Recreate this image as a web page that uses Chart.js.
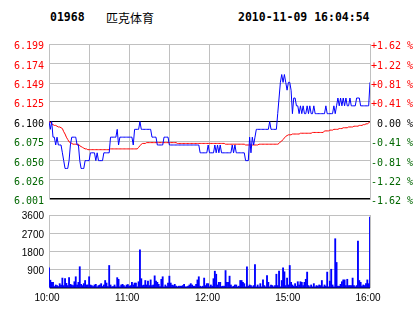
<!DOCTYPE html>
<html>
<head>
<meta charset="utf-8">
<script src="https://cdn.jsdelivr.net/npm/chart.js@4/dist/chart.umd.min.js"></script>
<style>
  body { margin: 0; background: #fff; width: 414px; height: 314px; position: relative; overflow: hidden; }
  .head { position: absolute; top: 10px; font: bold 11.5px "DejaVu Sans Mono", monospace; color: #000; line-height: 14px; white-space: pre; }
  .name { font: 12px "Noto Sans CJK SC", sans-serif; top: 9px; }
  canvas { position: absolute; left: 0; }
</style>
</head>
<body>
<div class="head" id="code" style="left:50px"></div>
<div class="head name" id="name" style="left:106px"></div>
<div class="head" id="stamp" style="left:238px"></div>
<canvas id="price" width="414" height="180" style="top:30px"></canvas>
<canvas id="vol" width="414" height="110" style="top:204px"></canvas>
<script>
const stockCode = '01968';
const stockName = '匹克体育';
const stamp = '2010-11-09 16:04:54';
const prevClose = 6.10;

const timeLabels = ['10:00', '11:00', '12:00', '15:00', '16:00'];
const priceTicks = [6.001, 6.026, 6.050, 6.075, 6.100, 6.125, 6.149, 6.174, 6.199];
const priceLabels = ['6.001', '6.026', '6.050', '6.075', '6.100', '6.125', '6.149', '6.174', '6.199'];
const pctLabels = ['-1.62 %', '-1.22 %', '-0.81 %', '-0.41 %', ' 0.00 %', '+0.41 %', '+0.81 %', '+1.22 %', '+1.62 %'];
const volTicks = [0, 900, 1800, 2700, 3600];

// one value per minute, 10:00 -> 16:00 (lunch break skipped)
const price = [
  6.10, 6.09, 6.10, 6.08, 6.08, 6.07, 6.08, 6.07, 6.07, 6.07,
  6.06, 6.05, 6.04, 6.04, 6.04, 6.05, 6.07, 6.08, 6.08, 6.08,
  6.08, 6.07, 6.07, 6.05, 6.04, 6.04, 6.04, 6.05, 6.05, 6.05,
  6.05, 6.06, 6.06, 6.06, 6.06, 6.05, 6.06, 6.05, 6.05, 6.05,
  6.05, 6.06, 6.06, 6.06, 6.06, 6.06, 6.08, 6.08, 6.08, 6.08,
  6.08, 6.09, 6.07, 6.08, 6.08, 6.08, 6.08, 6.08, 6.08, 6.08,
  6.08, 6.08, 6.08, 6.07, 6.09, 6.09, 6.09, 6.09, 6.10, 6.09,
  6.09, 6.09, 6.09, 6.09, 6.09, 6.09, 6.09, 6.08, 6.08, 6.08,
  6.08, 6.07, 6.07, 6.07, 6.07, 6.07, 6.08, 6.08, 6.08, 6.08,
  6.07, 6.07, 6.07, 6.07, 6.07, 6.07, 6.07, 6.07, 6.07, 6.07,
  6.07, 6.07, 6.07, 6.07, 6.07, 6.07, 6.07, 6.07, 6.07, 6.07,
  6.07, 6.07, 6.07, 6.06, 6.06, 6.06, 6.06, 6.06, 6.06, 6.07,
  6.06, 6.06, 6.06, 6.06, 6.07, 6.06, 6.07, 6.06, 6.07, 6.06,
  6.06, 6.06, 6.06, 6.06, 6.06, 6.06, 6.06, 6.07, 6.06, 6.07,
  6.06, 6.06, 6.06, 6.06, 6.06, 6.06, 6.06, 6.05, 6.05, 6.05,
  6.08, 6.06, 6.08, 6.07, 6.08, 6.09, 6.09, 6.09, 6.09, 6.09,
  6.09, 6.09, 6.09, 6.09, 6.09, 6.10, 6.09, 6.09, 6.09, 6.09,
  6.09, 6.11, 6.13, 6.15, 6.16, 6.15, 6.16, 6.15, 6.14, 6.15,
  6.15, 6.14, 6.11, 6.13, 6.13, 6.12, 6.12, 6.11, 6.12, 6.11,
  6.12, 6.11, 6.11, 6.12, 6.11, 6.12, 6.11, 6.11, 6.12, 6.11,
  6.11, 6.11, 6.11, 6.11, 6.11, 6.11, 6.11, 6.12, 6.11, 6.11,
  6.11, 6.11, 6.11, 6.12, 6.11, 6.12, 6.13, 6.12, 6.13, 6.12,
  6.13, 6.12, 6.13, 6.12, 6.12, 6.13, 6.12, 6.12, 6.12, 6.12,
  6.13, 6.13, 6.13, 6.12, 6.12, 6.12, 6.12, 6.12, 6.12, 6.12,
  6.15
];

const avgPrice = [
  6.100, 6.099, 6.097, 6.096, 6.095, 6.095, 6.094, 6.093, 6.093, 6.092,
  6.091, 6.087, 6.084, 6.080, 6.077, 6.074, 6.073, 6.072, 6.071, 6.071,
  6.071, 6.071, 6.071, 6.069, 6.068, 6.067, 6.066, 6.065, 6.065, 6.064,
  6.064, 6.064, 6.064, 6.064, 6.064, 6.064, 6.064, 6.064, 6.064, 6.064,
  6.064, 6.064, 6.064, 6.064, 6.064, 6.064, 6.065, 6.065, 6.065, 6.065,
  6.065, 6.065, 6.065, 6.065, 6.065, 6.065, 6.065, 6.065, 6.065, 6.065,
  6.065, 6.065, 6.065, 6.065, 6.065, 6.065, 6.065, 6.067, 6.069, 6.071,
  6.072, 6.072, 6.072, 6.073, 6.073, 6.073, 6.073, 6.073, 6.073, 6.073,
  6.073, 6.073, 6.073, 6.073, 6.073, 6.073, 6.073, 6.073, 6.073, 6.073,
  6.073, 6.073, 6.073, 6.073, 6.073, 6.073, 6.072, 6.072, 6.072, 6.072,
  6.072, 6.072, 6.072, 6.072, 6.072, 6.072, 6.072, 6.072, 6.072, 6.072,
  6.072, 6.072, 6.072, 6.072, 6.072, 6.072, 6.072, 6.072, 6.072, 6.072,
  6.072, 6.072, 6.072, 6.072, 6.072, 6.072, 6.072, 6.072, 6.072, 6.072,
  6.072, 6.072, 6.071, 6.071, 6.071, 6.071, 6.071, 6.071, 6.071, 6.071,
  6.071, 6.071, 6.071, 6.071, 6.071, 6.071, 6.071, 6.070, 6.070, 6.070,
  6.070, 6.070, 6.070, 6.070, 6.070, 6.070, 6.070, 6.071, 6.071, 6.071,
  6.071, 6.071, 6.071, 6.071, 6.071, 6.071, 6.071, 6.071, 6.071, 6.071,
  6.071, 6.071, 6.072, 6.074, 6.075, 6.077, 6.079, 6.081, 6.082, 6.083,
  6.083, 6.083, 6.084, 6.084, 6.084, 6.084, 6.084, 6.084, 6.085, 6.085,
  6.085, 6.085, 6.085, 6.085, 6.085, 6.085, 6.085, 6.086, 6.086, 6.086,
  6.086, 6.086, 6.086, 6.086, 6.086, 6.086, 6.088, 6.088, 6.088, 6.088,
  6.089, 6.089, 6.089, 6.090, 6.090, 6.090, 6.090, 6.091, 6.091, 6.091,
  6.092, 6.092, 6.092, 6.092, 6.093, 6.093, 6.093, 6.093, 6.094, 6.094,
  6.094, 6.094, 6.095, 6.095, 6.095, 6.096, 6.096, 6.097, 6.097, 6.098,
  6.100
];

const volume = [
  1000, 385, 280, 280, 75, 150, 120, 75, 215, 150,
  490, 120, 460, 230, 120, 510, 180, 150, 120, 310,
  555, 150, 280, 1050, 180, 120, 215, 370, 150, 150,
  555, 150, 120, 75, 150, 180, 60, 120, 150, 215,
  75, 150, 370, 245, 75, 1110, 150, 60, 75, 150,
  60, 510, 430, 60, 150, 180, 120, 60, 150, 170,
  90, 120, 280, 150, 245, 245, 60, 310, 1880, 460,
  120, 150, 370, 150, 340, 120, 400, 120, 150, 600,
  340, 280, 180, 75, 430, 555, 60, 150, 75, 245,
  585, 245, 150, 120, 180, 90, 60, 90, 90, 90,
  120, 180, 60, 60, 90, 150, 215, 150, 90, 90,
  180, 400, 555, 90, 60, 90, 490, 120, 215, 215,
  60, 150, 90, 460, 830, 680, 150, 280, 280, 75,
  90, 90, 860, 280, 280, 585, 150, 60, 90, 150,
  150, 60, 90, 370, 370, 280, 215, 60, 1050, 90,
  150, 120, 60, 120, 1150, 60, 150, 60, 215, 60,
  400, 120, 60, 615, 280, 60, 150, 120, 60, 120,
  680, 120, 830, 60, 370, 1000, 800, 120, 490, 150,
  1110, 280, 150, 90, 215, 90, 310, 150, 310, 280,
  120, 280, 430, 785, 120, 60, 150, 60, 215, 60,
  120, 90, 150, 120, 370, 60, 150, 90, 785, 60,
  340, 925, 150, 60, 2430, 1260, 90, 90, 180, 310,
  400, 400, 120, 430, 120, 120, 120, 490, 120, 60,
  120, 2310, 370, 280, 90, 150, 120, 215, 400, 215,
  3500
];

document.getElementById('code').textContent = stockCode;
document.getElementById('name').textContent = stockName;
document.getElementById('stamp').textContent = stamp;

const gray = '#c0c0c0';
const monoFont = { family: 'DejaVu Sans Mono', size: 10 };
const sansFont = { family: 'Liberation Sans', size: 10 };

function tickColor(v) {
  if (v > prevClose + 0.0001) return '#ff0000';
  if (v < prevClose - 0.0001) return '#006600';
  return '#000000';
}

function setPriceTicks(scale) {
  scale.ticks = priceTicks.map(v => ({ value: v }));
}

new Chart(document.getElementById('price'), {
  type: 'line',
  data: {
    datasets: [
      {
        data: price.map((p, i) => ({ x: i, y: p })),
        borderColor: '#0000ff',
        borderWidth: 1,
        pointRadius: 0,
        tension: 0,
      },
      {
        data: avgPrice.map((p, i) => ({ x: i, y: p })),
        borderColor: '#ff0000',
        borderWidth: 1,
        pointRadius: 0,
        tension: 0,
      },
    ],
  },
  options: {
    responsive: false,
    animation: false,
    events: [],
    layout: { padding: { top: 14, bottom: 6, left: 0, right: 0 } },
    plugins: { legend: { display: false }, tooltip: { enabled: false } },
    scales: {
      x: {
        type: 'linear',
        min: 0,
        max: 240,
        ticks: { stepSize: 30, display: false },
        grid: { color: gray, drawTicks: false },
        border: { display: false },
      },
      y: {
        position: 'left',
        min: priceTicks[0],
        max: priceTicks[priceTicks.length - 1],
        afterBuildTicks: setPriceTicks,
        afterFit: s => { s.width = 49; },
        ticks: {
          font: monoFont,
          padding: 5,
          labelOffset: 2.5,
          color: c => tickColor(c.tick.value),
          callback: (v, i) => priceLabels[i],
        },
        grid: {
          drawTicks: false,
          color: c => (c.tick && (c.index === 0 || Math.abs(c.tick.value - prevClose) < 0.0001)) ? '#000000' : gray,
          lineWidth: c => (c.index === 0 ? 1.6 : 1),
        },
        border: { color: gray },
      },
      y2: {
        position: 'right',
        min: priceTicks[0],
        max: priceTicks[priceTicks.length - 1],
        afterBuildTicks: setPriceTicks,
        afterFit: s => { s.width = 44; },
        ticks: {
          font: monoFont,
          padding: 1,
          labelOffset: 2.5,
          color: c => tickColor(c.tick.value),
          callback: (v, i) => pctLabels[i],
        },
        grid: { display: false, drawTicks: false },
        border: { color: gray },
      },
    },
  },
});

new Chart(document.getElementById('vol'), {
  type: 'bar',
  data: {
    datasets: [
      {
        data: volume.map((v, i) => ({ x: i, y: v })),
        backgroundColor: '#0000ff',
        borderWidth: 0,
        barThickness: 1.2,
      },
    ],
  },
  options: {
    responsive: false,
    animation: false,
    events: [],
    layout: { padding: { top: 6, right: 44, left: 0, bottom: 0 } },
    plugins: { legend: { display: false }, tooltip: { enabled: false } },
    scales: {
      x: {
        type: 'linear',
        min: 0,
        max: 240,
        offset: false,
        afterFit: s => { s.height = 26; },
        ticks: {
          stepSize: 30,
          autoSkip: false,
          maxRotation: 0,
          padding: 4,
          labelOffset: -2,
          font: sansFont,
          color: '#000',
          callback: v => (v % 60 === 0 ? timeLabels[v / 60] : ''),
        },
        grid: { offset: false, color: gray, drawTicks: false },
        border: { display: false },
      },
      y: {
        min: 0,
        max: 3600,
        afterBuildTicks: s => { s.ticks = volTicks.map(v => ({ value: v })); },
        afterFit: s => { s.width = 49; },
        ticks: {
          font: sansFont,
          color: '#000',
          padding: 5,
          labelOffset: 1.5,
          callback: v => (v === 0 ? '' : String(v)),
        },
        grid: {
          drawTicks: false,
          color: c => (c.tick && c.tick.value === 0 ? '#000000' : gray),
          lineWidth: c => (c.tick && c.tick.value === 0 ? 1.5 : 1),
        },
        border: { color: gray },
      },
    },
  },
});
</script>
</body>
</html>
